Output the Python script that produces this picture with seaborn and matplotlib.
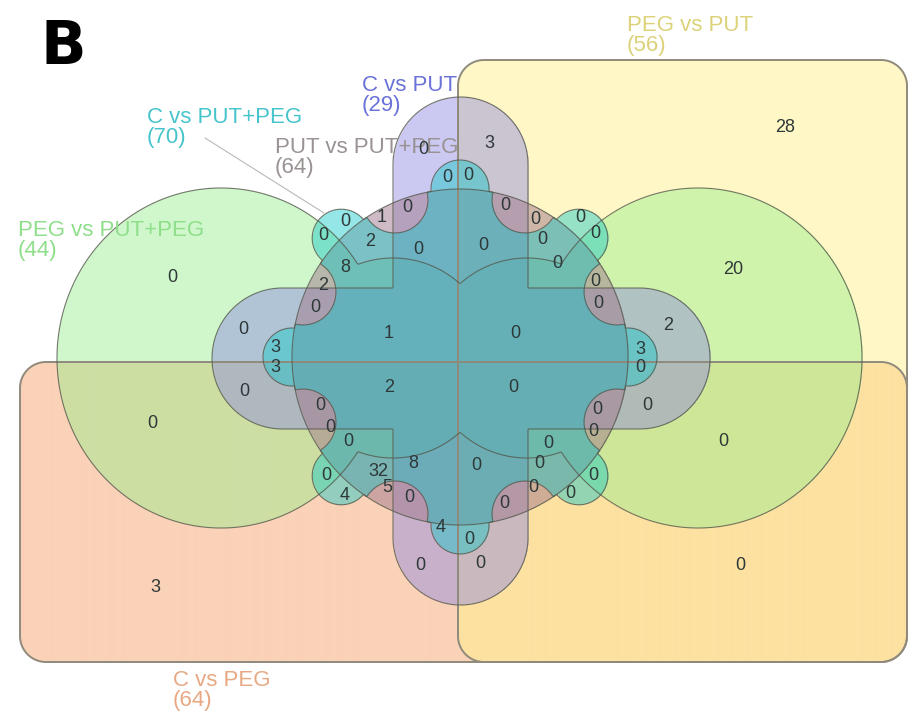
import numpy as np
import matplotlib
matplotlib.use("Agg")
import matplotlib.pyplot as plt
import seaborn as sns

sns.set_theme(style="white")
plt.rcParams['font.family'] = ['Liberation Sans', 'DejaVu Sans']

# ---------------- data ----------------
set_names = ["C vs PUT+PEG", "PUT vs PUT+PEG", "C vs PUT", "PEG vs PUT", "PEG vs PUT+PEG", "C vs PEG"]
set_sizes = [70, 64, 29, 56, 44, 64]

region_counts = [28, 20, 0, 0, 3, 0, 0, 2, 0, 3, 0, 3, 3, 0, 0, 0, 3, 0, 0, 1,
                 0, 0, 0, 2, 8, 2, 0, 1, 0, 0, 0, 0, 0, 0, 0, 0, 0, 0, 0, 2,
                 0, 0, 0, 0, 0, 0, 0, 0, 0, 0, 0, 0, 4, 32, 5, 8, 0, 0, 0, 4,
                 0, 0, 0]

# ---------------- layout (pixel positions of the region counts) ----------------
count_x = [785, 733, 172, 152, 155, 740, 723, 668, 647, 640, 640, 275, 275, 243, 244, 423, 489, 447, 468, 382,
           407, 345, 323, 370, 345, 323, 315, 389, 418, 483, 505, 535, 542, 557, 580, 595, 595, 598, 515, 389,
           513, 320, 330, 348, 597, 593, 548, 539, 533, 570, 593, 326, 345, 378, 387, 413, 476, 409, 504, 441,
           469, 420, 480]
count_y = [127, 270, 278, 423, 587, 565, 442, 325, 405, 349, 368, 348, 368, 330, 392, 150, 144, 177, 176, 218,
           208, 222, 235, 242, 267, 285, 308, 333, 250, 245, 205, 220, 240, 263, 218, 233, 282, 303, 333, 387,
           388, 405, 427, 442, 410, 431, 443, 463, 488, 493, 475, 475, 495, 472, 488, 464, 465, 497, 503, 527,
           539, 565, 564]

W, H = 921, 724
X, Y = np.meshgrid(np.arange(W) + 0.5, np.arange(H) + 0.5)


def sd_circle(cx, cy, r):
    return np.hypot(X - cx, Y - cy) - r


def sd_ellipse(cx, cy, rx, ry):
    k = np.hypot((X - cx) / rx, (Y - cy) / ry)
    return (k - 1) * min(rx, ry)


def sd_rrect(x0, y0, x1, y1, r):
    cx, cy = (x0 + x1) / 2, (y0 + y1) / 2
    hx, hy = (x1 - x0) / 2 - r, (y1 - y0) / 2 - r
    qx, qy = np.abs(X - cx) - hx, np.abs(Y - cy) - hy
    return np.hypot(np.maximum(qx, 0), np.maximum(qy, 0)) + np.minimum(np.maximum(qx, qy), 0) - r


CX, CY, R0 = 460, 357, 168
lobes = np.min([sd_circle(CX + R0 * np.cos(a), CY - R0 * np.sin(a), 29)
                for a in np.deg2rad(np.arange(0, 360, 45))], axis=0)
notches = np.min([sd_circle(CX + 170 * np.cos(a), CY - 170 * np.sin(a), 33)
                  for a in np.deg2rad(np.arange(22.5, 360, 45))], axis=0)
big = sd_circle(CX, CY, R0)

sd_orange = sd_rrect(20, 362, 907, 662, 26)
sd_yellow = sd_rrect(458, 60, 907, 662, 26)
sd_green = np.min([sd_ellipse(221, 358, 164, 170), sd_ellipse(698, 358, 164, 170),
                   sd_circle(393, 358, 100), sd_circle(527, 358, 100)], axis=0)
sd_purple = np.minimum(sd_rrect(393, 97, 528, 605, 67.5), sd_rrect(212, 288, 710, 429, 70.5))
sd_cyan = np.minimum(np.maximum(big, -notches), lobes)
sd_gray = big

# (signed distance, colour, opacity) in drawing order
layers = [
    (sd_orange, (245, 165, 112), 0.5),
    (sd_yellow, (255, 240, 140), 0.5),
    (sd_green, (150, 238, 140), 0.45),
    (sd_purple, (140, 135, 225), 0.45),
    (sd_gray, (160, 120, 140), 0.5),
    (sd_cyan, (20, 200, 200), 0.45),
]

img = np.ones((H, W, 3))
for sd, col, a in layers:
    m = (sd < 0)[..., None]
    c = np.array(col) / 255.0
    img = np.where(m, img * (1 - a) + c * a, img)

fig = plt.figure(figsize=(W / 100, H / 100), dpi=100)
ax = fig.add_axes([0, 0, 1, 1])
ax.imshow(img, extent=(0, W, H, 0), interpolation="bilinear", zorder=1)

for sd, col, a in layers[:2]:
    ax.contour(X, Y, sd, levels=[0], colors=["#8f8a7c"], linewidths=1.4, zorder=2)
for sd, col, a in layers[2:]:
    ax.contour(X, Y, sd, levels=[0], colors=["#55584c"], linewidths=0.8, alpha=0.8, zorder=2)

# counts
for v, x, y in zip(region_counts, count_x, count_y):
    ax.text(x, y, str(v), ha="center", va="center", fontsize=13, color="#2e3838", zorder=4)

# set labels
label_cols = ["#46c4cc", "#9a9292", "#6b72d8", "#dcd27a", "#8ede8a", "#e8a883"]
label_pos = [(147, 107), (275, 137), (362, 75), (627, 15), (18, 220), (173, 670)]
for name, size, col, (lx, ly) in zip(set_names, set_sizes, label_cols, label_pos):
    ax.text(lx, ly, name, ha="left", va="top", fontsize=16, color=col, zorder=3)
    ax.text(lx, ly + 20, f"({size})", ha="left", va="top", fontsize=16, color=col, zorder=3)

ax.plot([205, 324], [138, 213], color="#b9b9b9", lw=0.8, zorder=3)

ax.text(40, 18, "B", ha="left", va="top", fontsize=43, fontweight="bold",
        family=["DejaVu Sans"], color="black", zorder=6)

ax.set_xlim(0, W)
ax.set_ylim(H, 0)
ax.set_aspect("auto")
ax.axis("off")
fig.savefig("out.png", dpi=100)
